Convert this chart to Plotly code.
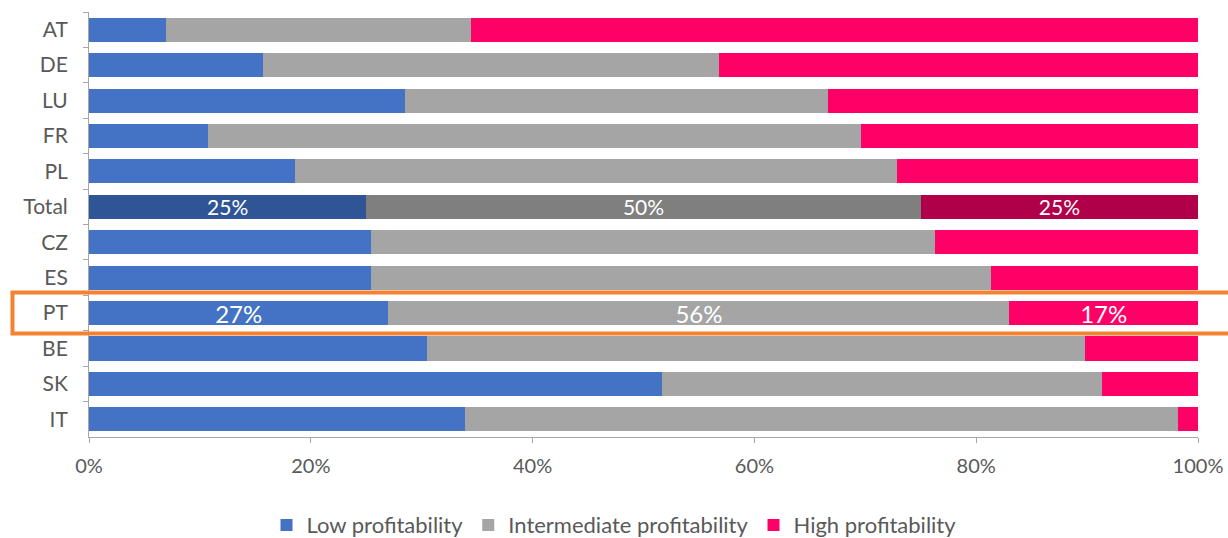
import plotly.graph_objects as go

countries = ["AT", "DE", "LU", "FR", "PL", "Total", "CZ", "ES", "PT", "BE", "SK", "IT"]
low = [6.9, 15.7, 28.5, 10.7, 18.6, 25.0, 25.4, 25.4, 27.0, 30.5, 51.7, 33.9]
intermediate = [27.5, 41.1, 38.1, 58.9, 54.3, 50.0, 50.9, 55.9, 56.0, 59.3, 39.6, 64.3]
high = [65.6, 43.2, 33.4, 30.4, 27.1, 25.0, 23.7, 18.7, 17.0, 10.2, 8.7, 1.8]

labelled = {"Total": 21, "PT": 24}

series = [
    ("Low profitability", low, "#4472C4", "#2F5597"),
    ("Intermediate profitability", intermediate, "#A5A5A5", "#7F7F7F"),
    ("High profitability", high, "#FF0066", "#B0004A"),
]

fig = go.Figure()
for name, vals, col, dark in series:
    colors = [dark if c == "Total" else col for c in countries]
    texts = [f"{round(v)}%" if c in labelled else "" for c, v in zip(countries, vals)]
    sizes = [labelled.get(c, 12) for c in countries]
    fig.add_trace(go.Bar(
        y=countries, x=vals, name=name, orientation="h",
        marker=dict(color=colors, line=dict(width=0)),
        text=texts, textposition="inside", insidetextanchor="middle",
        constraintext="none", textangle=0, cliponaxis=False,
        textfont=dict(color="white", size=sizes, family="Lato"),
        hoverinfo="x+y",
    ))

pt_idx = countries.index("PT")
fig.add_shape(type="rect", xref="paper", yref="y",
              x0=-0.069, x1=1.04, y0=pt_idx - 0.58, y1=pt_idx + 0.58,
              line=dict(color="#F58232", width=4), fillcolor="rgba(0,0,0,0)",
              layer="above")

fig.update_layout(
    barmode="stack", bargap=0.32,
    width=1228, height=538,
    margin=dict(l=89, r=30, t=12, b=101, autoexpand=False),
    plot_bgcolor="white", paper_bgcolor="white",
    font=dict(family="Lato", color="#595959", size=20),
    legend=dict(orientation="h", x=0.5, xanchor="center", xref="container",
                y=0.024, yanchor="middle", yref="container",
                font=dict(size=22, color="#595959"), traceorder="normal",
                itemwidth=30),
)
fig.update_xaxes(range=[0, 100], tickvals=[0, 20, 40, 60, 80, 100],
                 ticktext=["0%", "20%", "40%", "60%", "80%", "100%"],
                 showgrid=False, showline=True, linecolor="#A6A6A6", linewidth=1,
                 ticks="outside", ticklen=5, tickcolor="#A6A6A6", zeroline=False,
                 ticklabelstandoff=6,
                 tickfont=dict(size=20, color="#595959"), automargin=False)
fig.update_yaxes(autorange="reversed", showgrid=False, showline=True,
                 linecolor="#A6A6A6", linewidth=1, ticks="outside", ticklen=5,
                 tickcolor="#A6A6A6", tickson="boundaries", automargin=False,
                 ticklabelstandoff=16,
                 tickfont=dict(size=21, color="#595959"))

fig.write_html("out.html", config={"displayModeBar": False},
               post_script="document.body.style.margin='0px';document.body.style.overflow='hidden';")
